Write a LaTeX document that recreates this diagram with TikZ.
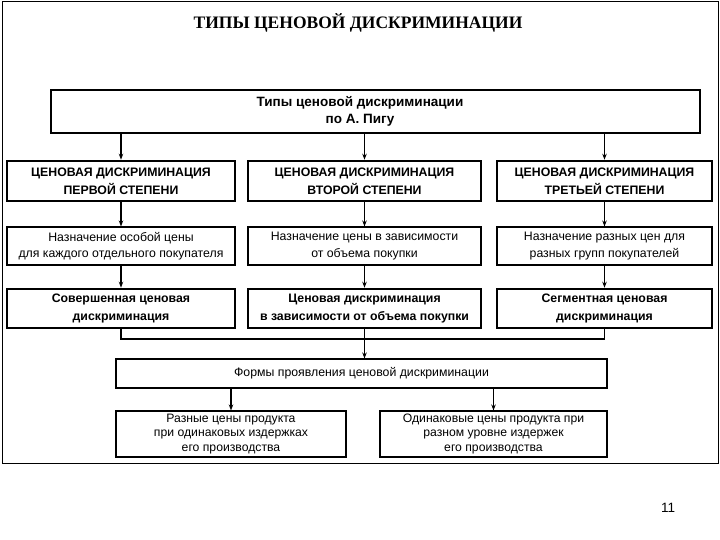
\documentclass[tikz,border=0pt]{standalone}
\usepackage{fontspec}
\setmainfont{Liberation Sans}
\newfontfamily\titlefont{Liberation Serif}
\usetikzlibrary{arrows.meta}
\tikzset{
  bx/.style={draw=black, line width=1.1pt, fill=white, inner sep=0pt, align=center, font=\fontsize{12.3}{16.5}\selectfont},
  thick box/.style={bx, line width=2.6pt, font=\bfseries\fontsize{12.3}{18}\selectfont},
  thin box/.style={bx, line width=1.1pt},
  low box/.style={bx, line width=1.1pt, font=\fontsize{12.2}{14.2}\selectfont},
  arr/.style={line width=1.1pt, -{Stealth[length=6pt,width=4.5pt]}},
  ln/.style={line width=1.1pt},
}
\begin{document}
\begin{tikzpicture}[x=1pt,y=-1pt]
\useasboundingbox (0,0) rectangle (720,540);
\draw[line width=1pt] (2,2) rectangle (718,463);
\node[font=\titlefont\bfseries\fontsize{17.5}{20}\selectfont] (title) at (358,23) {ТИПЫ ЦЕНОВОЙ ДИСКРИМИНАЦИИ};
% top box
\node[thick box, minimum width=649pt, minimum height=43pt] (top) at (375.5,111.5) {};
\node[align=center, inner sep=0pt, font=\bfseries\fontsize{13.5}{16.5}\selectfont] (toptext) at (360,111.5) {Типы ценовой дискриминации\\по А. Пигу};
% level 1
\node[thick box, minimum width=228pt, minimum height=40pt] (a1) at (121,181) {ЦЕНОВАЯ ДИСКРИМИНАЦИЯ\\ПЕРВОЙ СТЕПЕНИ};
\node[thick box, minimum width=233pt, minimum height=40pt] (a2) at (364.5,181) {ЦЕНОВАЯ ДИСКРИМИНАЦИЯ\\ВТОРОЙ СТЕПЕНИ};
\node[thick box, minimum width=215pt, minimum height=40pt] (a3) at (604.5,181) {ЦЕНОВАЯ ДИСКРИМИНАЦИЯ\\ТРЕТЬЕЙ СТЕПЕНИ};
% level 2
\node[thin box, minimum width=228pt, minimum height=38pt] (b1) at (121,246) {Назначение особой цены\\для каждого отдельного покупателя};
\node[thin box, minimum width=233pt, minimum height=38pt] (b2) at (364.5,246) {Назначение цены в зависимости\\от объема покупки};
\node[thin box, minimum width=215pt, minimum height=38pt] (b3) at (604.5,246) {Назначение разных цен для\\разных групп покупателей};
% level 3
\node[thick box, minimum width=228pt, minimum height=39pt] (c1) at (121,308.5) {Совершенная ценовая\\дискриминация};
\node[thick box, minimum width=233pt, minimum height=39pt] (c2) at (364.5,308.5) {Ценовая дискриминация\\в зависимости от объема покупки};
\node[thick box, minimum width=215pt, minimum height=39pt] (c3) at (604.5,308.5) {Сегментная ценовая\\дискриминация};
% forms
\node[thin box, minimum width=491pt, minimum height=29pt] (f) at (361.5,373.5) {Формы проявления ценовой дискриминации};
\node[low box, minimum width=230pt, minimum height=46pt] (d1) at (231,434) {Разные цены продукта\\при одинаковых издержках\\его производства};
\node[low box, minimum width=227pt, minimum height=46pt] (d2) at (493.5,434) {Одинаковые цены продукта при\\разном уровне издержек\\его производства};
\node[font=\fontsize{13.5}{15}\selectfont] (num) at (668,508) {11};
% connectors
\foreach \i in {1,2,3}{
  \draw[arr] (top.south -| a\i.north) -- (a\i.north);
  \draw[arr] (a\i.south) -- (b\i.north);
  \draw[arr] (b\i.south) -- (c\i.north);
}
\coordinate (j) at (0,339);
\draw[ln] (c1.south) -- (c1.south |- j) -- (c3.south |- j) -- (c3.south);
\draw[arr] (c2.south) -- (c2.south |- f.north);
\draw[arr] (f.south -| d1.north) -- (d1.north);
\draw[arr] (f.south -| d2.north) -- (d2.north);
\end{tikzpicture}
\end{document}
